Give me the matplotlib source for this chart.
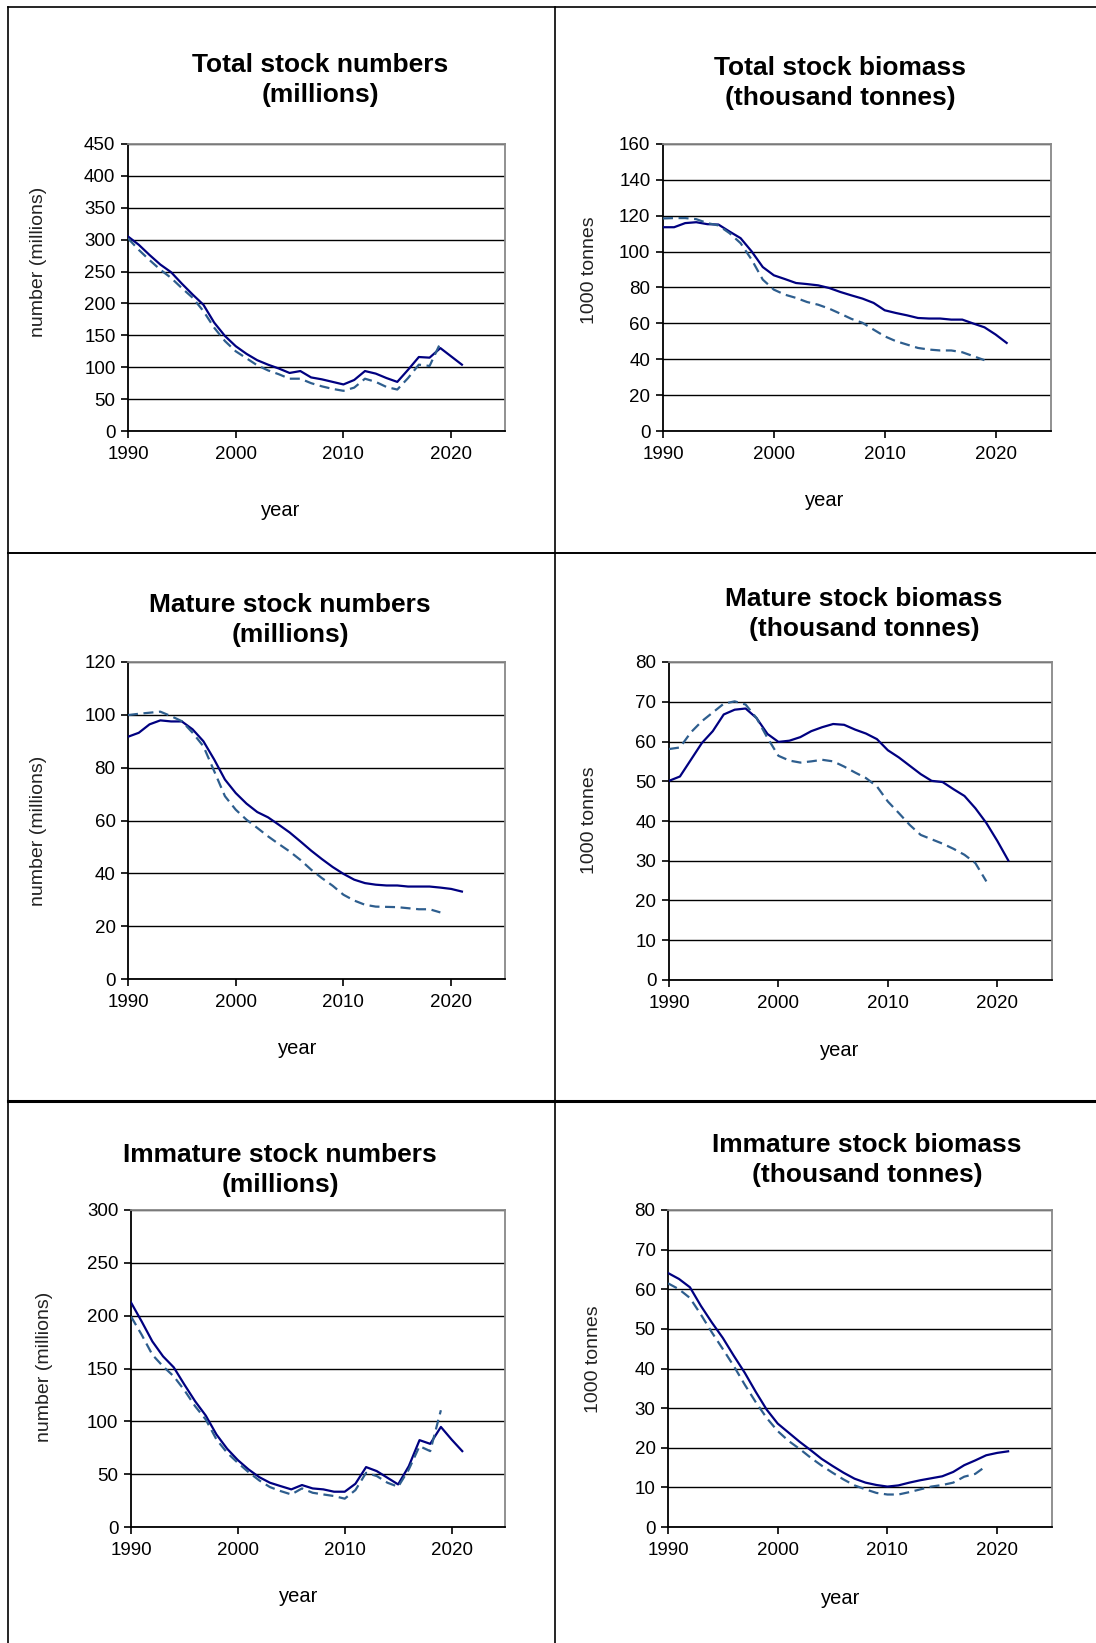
import matplotlib
matplotlib.use('Agg')
import matplotlib.pyplot as plt
from matplotlib.lines import Line2D

plt.rcParams['font.family'] = ['Liberation Sans', 'DejaVu Sans']

W, H = 1096, 1643

years = list(range(1990, 2022))
years_dash = list(range(1990, 2020))

# total stock numbers (millions)
total_num = [305, 292, 276, 261, 249, 231, 214, 198, 170, 149, 133, 121, 111, 104, 98, 91,
             94, 84, 81, 77, 73, 80, 94, 90, 83, 77, 96, 116, 115, 130, 117, 104]
total_num_d = [302, 284, 268, 253, 240, 224, 209, 188, 162, 141, 125, 114, 103, 95, 89, 82,
               82, 75, 70, 66, 63, 68, 82, 77, 69, 65, 83, 104, 102, 138]

# total stock biomass (thousand tonnes)
total_bio = [113.6, 113.6, 115.9, 116.4, 115.3, 115.1, 111.2, 107.5, 100.1, 91.4, 86.8, 84.7,
             82.5, 81.9, 81.2, 79.7, 77.5, 75.6, 73.8, 71.4, 67.3, 65.8, 64.5, 63.0, 62.7,
             62.7, 62.1, 62.1, 59.9, 57.8, 53.8, 49.1]
total_bio_d = [118.5, 118.7, 118.7, 118.1, 115.9, 114.6, 110.3, 104.7, 95.5, 84.4, 78.8, 76.0,
               74.2, 71.9, 70.4, 68.2, 65.4, 62.5, 60.3, 56.5, 52.8, 50.1, 48.2, 46.3, 45.4,
               44.9, 44.9, 43.9, 41.7, 39.5]

# mature stock numbers (millions)
mature_num = [91.7, 93.2, 96.4, 97.9, 97.5, 97.5, 94.5, 90.0, 83.1, 75.5, 70.4, 66.4, 63.2,
              61.2, 58.4, 55.5, 52.1, 48.6, 45.4, 42.4, 39.8, 37.6, 36.3, 35.7, 35.4, 35.4,
              35.0, 35.0, 35.0, 34.6, 34.1, 33.1]
mature_num_d = [99.9, 100.4, 100.8, 101.2, 99.5, 97.6, 93.2, 88.1, 78.7, 69.2, 64.1, 60.3,
                57.2, 54.0, 51.1, 48.3, 45.1, 41.4, 38.2, 35.3, 31.9, 29.7, 28.1, 27.4, 27.3,
                27.2, 26.8, 26.4, 26.4, 25.2]

# mature stock biomass (thousand tonnes)
mature_bio = [50.1, 51.2, 55.4, 59.6, 62.6, 66.8, 68.0, 68.3, 65.9, 61.9, 59.9, 60.2, 61.1,
              62.6, 63.6, 64.4, 64.2, 63.0, 62.0, 60.6, 57.8, 56.0, 53.9, 51.8, 50.1, 49.8,
              48.0, 46.3, 43.2, 39.5, 35.0, 30.1]
mature_bio_d = [58.1, 58.5, 62.3, 65.1, 67.3, 69.5, 70.1, 69.3, 65.9, 60.9, 56.4, 55.2, 54.7,
                55.0, 55.4, 55.0, 53.7, 52.2, 50.8, 48.7, 44.9, 42.0, 39.0, 36.5, 35.4, 34.3,
                33.0, 31.5, 29.4, 24.8]

# immature stock numbers (millions)
immature_num = [212.5, 194.5, 175.6, 161.5, 151.1, 134.7, 119.0, 105.4, 87.5, 74.0, 63.3,
                54.5, 47.2, 41.9, 38.7, 35.6, 39.7, 36.5, 35.6, 33.4, 33.4, 40.9, 56.7, 52.9,
                46.6, 40.3, 57.6, 82.2, 78.7, 94.7, 82.8, 71.8]
immature_num_d = [199.2, 181.9, 163.0, 152.0, 142.6, 129.4, 114.3, 101.7, 82.8, 70.2, 60.7,
                  51.9, 44.1, 37.8, 34.0, 30.8, 36.5, 32.4, 30.8, 29.3, 26.8, 34.9, 51.3, 48.2,
                  41.9, 38.1, 54.5, 76.5, 71.8, 110.5]

# immature stock biomass (thousand tonnes)
immature_bio = [64.1, 62.6, 60.5, 55.8, 51.6, 47.7, 43.2, 38.9, 34.1, 29.6, 26.1, 23.8, 21.5,
                19.4, 17.2, 15.4, 13.7, 12.2, 11.2, 10.6, 10.2, 10.5, 11.2, 11.8, 12.3, 12.8,
                13.9, 15.6, 16.8, 18.1, 18.7, 19.1]
immature_bio_d = [61.5, 60.0, 57.8, 53.6, 49.1, 44.9, 40.6, 35.9, 31.5, 27.5, 24.2, 21.7, 19.7,
                  17.5, 15.5, 13.7, 12.0, 10.5, 9.5, 8.6, 8.2, 8.2, 8.8, 9.5, 10.2, 10.6, 11.2,
                  12.7, 13.4, 15.4]


def rect(l, t, r, b):
    return [l / W, 1 - b / H, (r - l) / W, (b - t) / H]


def fx(x):
    return x / W


def fy(y):
    return 1 - y / H


fig = plt.figure(figsize=(W / 100, H / 100), dpi=100)


def panel(box, solid, dashed, ymax, ystep, title, title_xy, ylabel, ylabel_xy, year_xy):
    ax = fig.add_axes(rect(*box))
    ax.plot(years, solid, color='#000080', lw=1.6, zorder=3)
    ax.plot(years_dash, dashed, color='#2e5e8e', lw=1.6, linestyle=(0, (4.5, 2.5)), zorder=3)
    ax.set_xlim(1990, 2025)
    ax.set_ylim(0, ymax)
    ax.set_xticks([1990, 2000, 2010, 2020])
    ax.set_yticks(range(0, ymax + 1, ystep))
    ax.yaxis.grid(True, color='black', lw=1.0)
    ax.set_axisbelow(True)
    for s in ['top', 'right']:
        ax.spines[s].set_color('#888888')
        ax.spines[s].set_linewidth(1.3)
    for s in ['left', 'bottom']:
        ax.spines[s].set_color('black')
        ax.spines[s].set_linewidth(1.3)
    ax.tick_params(labelsize=13.5, length=5, width=1.2, direction='out', pad=4)
    ax.tick_params(axis='x', pad=6)
    fig.text(fx(title_xy[0]), fy(title_xy[1] + 3), title, ha='center', va='center',
             fontsize=19, fontweight='bold', linespacing=1.35)
    fig.text(fx(ylabel_xy[0]), fy(ylabel_xy[1]), ylabel, ha='center', va='center',
             rotation=90, fontsize=14, color='#222222')
    fig.text(fx(year_xy[0]), fy(year_xy[1]), 'year', ha='center', va='center', fontsize=14.5)
    return ax


panel((128, 144, 505, 431), total_num, total_num_d, 450, 50,
      'Total stock numbers\n(millions)', (320, 77), 'number (millions)', (39, 262), (281, 510))
panel((663, 144, 1051, 431), total_bio, total_bio_d, 160, 20,
      'Total stock biomass\n(thousand tonnes)', (840, 80), '1000 tonnes', (590, 270), (825, 501))
panel((128, 662, 505, 979), mature_num, mature_num_d, 120, 20,
      'Mature stock numbers\n(millions)', (290, 617), 'number (millions)', (39, 831), (298, 1049))
panel((669, 662, 1052, 980), mature_bio, mature_bio_d, 80, 10,
      'Mature stock biomass\n(thousand tonnes)', (864, 611), '1000 tonnes', (590, 820), (840, 1051))
panel((131, 1210, 505, 1527), immature_num, immature_num_d, 300, 50,
      'Immature stock numbers\n(millions)', (280, 1167), 'number (millions)', (45, 1367), (299, 1597))
panel((668, 1210, 1052, 1527), immature_bio, immature_bio_d, 80, 10,
      'Immature stock biomass\n(thousand tonnes)', (867, 1157), '1000 tonnes', (594, 1359), (841, 1598))

# table cell borders
borders = [((8, 7), (W, 7), 1.2), ((8, 7), (8, H), 1.2), ((555, 7), (555, H), 1.2),
           ((8, 553), (W, 553), 1.4), ((8, 1101), (W, 1101), 2.2)]
for (x0, y0), (x1, y1), lw in borders:
    fig.add_artist(Line2D([fx(x0), fx(x1)], [fy(y0), fy(y1)], color='black', lw=lw))

fig.savefig('out.png', dpi=100)
